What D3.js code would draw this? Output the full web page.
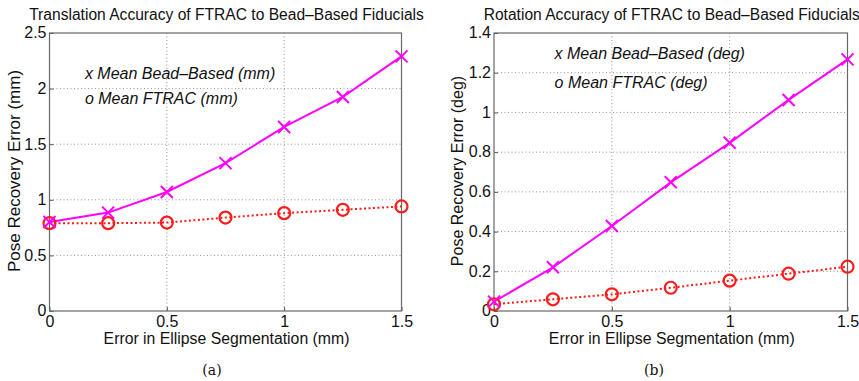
<!DOCTYPE html>
<html>
<head>
<meta charset="utf-8">
<script src="https://cdn.jsdelivr.net/npm/d3@7"></script>
<style>
  body { margin: 0; background: #fff; }
  svg { display: block; font-family: "Liberation Sans", Arial, sans-serif; }
</style>
</head>
<body>
<div id="chart"></div>
<script>
// x positions (error in ellipse segmentation, mm)
const segError = [0, 0.25, 0.5, 0.75, 1.0, 1.25, 1.5];

// (a) translation, mm
const transBead = [0.80, 0.885, 1.07, 1.33, 1.655, 1.925, 2.29];
const transFtrac = [0.79, 0.79, 0.795, 0.84, 0.88, 0.91, 0.94];

// (b) rotation, deg
const rotBead = [0.047, 0.22, 0.428, 0.648, 0.847, 1.063, 1.267];
const rotFtrac = [0.034, 0.059, 0.084, 0.117, 0.153, 0.188, 0.223];

const xTicks = [0, 0.5, 1, 1.5];
const transTicks = [0, 0.5, 1, 1.5, 2, 2.5];
const rotTicks = [0, 0.2, 0.4, 0.6, 0.8, 1, 1.2, 1.4];

const width = 859, height = 381;

const svg = d3.select('#chart')
  .append('svg')
  .attr('width', width)
  .attr('height', height)
  .attr('viewBox', [0, 0, width, height]);

const panels = [
  {
    left: 49.5, right: 401.5, top: 33, bottom: 311,
    yMax: 2.5, yTicks: transTicks,
    bead: transBead, ftrac: transFtrac,
    title: 'Translation Accuracy of FTRAC to Bead\u2013Based Fiducials',
    yLabel: 'Pose Recovery Error (mm)', yLabelSize: 17, yLabelX: 20,
    legend: ['x Mean Bead\u2013Based (mm)', 'o Mean FTRAC (mm)'],
    legendX: 0.151, legendY: [2.086, 1.86],
    caption: '(a)', captionX: 212
  },
  {
    left: 494, right: 847.5, top: 33, bottom: 311,
    yMax: 1.4, yTicks: rotTicks,
    bead: rotBead, ftrac: rotFtrac,
    title: 'Rotation Accuracy of FTRAC to Bead\u2013Based Fiducials',
    yLabel: 'Pose Recovery Error (deg)', yLabelSize: 16, yLabelX: 463,
    legend: ['x Mean Bead\u2013Based (deg)', 'o Mean FTRAC (deg)'],
    legendX: 0.257, legendY: [1.269, 1.121],
    caption: '(b)', captionX: 654
  }
];

panels.forEach(drawPanel);

function drawPanel(p) {
  const x = d3.scaleLinear().domain([0, 1.5]).range([p.left, p.right]);
  const y = d3.scaleLinear().domain([0, p.yMax]).range([p.bottom, p.top]);
  const g = svg.append('g');
  const fmt = d => String(+d.toFixed(2));

  // dotted grid
  g.selectAll('.vgrid')
    .data(xTicks.filter(d => d > 0 && d < 1.5))
    .join('line')
    .attr('x1', d => x(d)).attr('x2', d => x(d))
    .attr('y1', p.top).attr('y2', p.bottom)
    .attr('stroke', '#777').attr('stroke-width', 0.8)
    .attr('stroke-dasharray', '1,2.5');

  g.selectAll('.hgrid')
    .data(p.yTicks.filter(d => d > 0 && d < p.yMax))
    .join('line')
    .attr('x1', p.left).attr('x2', p.right)
    .attr('y1', d => y(d)).attr('y2', d => y(d))
    .attr('stroke', '#777').attr('stroke-width', 0.8)
    .attr('stroke-dasharray', '1,2.5');

  // axes (inward ticks, box)
  const xAxis = g.append('g')
    .attr('transform', `translate(0,${p.bottom})`)
    .call(d3.axisBottom(x).tickValues(xTicks).tickSize(-4).tickPadding(7).tickFormat(fmt));
  const yAxis = g.append('g')
    .attr('transform', `translate(${p.left},0)`)
    .call(d3.axisLeft(y).tickValues(p.yTicks).tickSize(-4).tickPadding(3).tickFormat(fmt));
  [xAxis, yAxis].forEach(a => {
    a.select('.domain').remove();
    a.selectAll('line').attr('stroke', '#555');
    a.selectAll('text')
      .attr('fill', '#111')
      .style('font-family', '"Liberation Sans", Arial, sans-serif')
      .style('font-size', '16px');
  });
  xAxis.selectAll('text').attr('dy', '0.55em');
  yAxis.selectAll('text').attr('dy', '0.3em');

  g.append('rect')
    .attr('x', p.left).attr('y', p.top)
    .attr('width', p.right - p.left).attr('height', p.bottom - p.top)
    .attr('fill', 'none').attr('stroke', '#666').attr('stroke-width', 1.2);

  // series
  const line = d3.line().x((d, i) => x(segError[i])).y(d => y(d));

  g.append('path')
    .datum(p.ftrac)
    .attr('d', line)
    .attr('fill', 'none')
    .attr('stroke', '#ff1a1a')
    .attr('stroke-width', 2)
    .attr('stroke-dasharray', '2,2.5');

  g.append('path')
    .datum(p.bead)
    .attr('d', line)
    .attr('fill', 'none')
    .attr('stroke', '#ff00ff')
    .attr('stroke-width', 2);

  g.selectAll('.ring')
    .data(p.ftrac)
    .join('circle')
    .attr('cx', (d, i) => x(segError[i]))
    .attr('cy', d => y(d))
    .attr('r', 6)
    .attr('fill', 'none')
    .attr('stroke', '#ff1a1a')
    .attr('stroke-width', 2.2);

  g.selectAll('.cross')
    .data(p.bead)
    .join('path')
    .attr('d', (d, i) => {
      const cx = x(segError[i]), cy = y(d), s = 6;
      return `M${cx - s},${cy - s}L${cx + s},${cy + s}M${cx - s},${cy + s}L${cx + s},${cy - s}`;
    })
    .attr('stroke', '#ff00ff')
    .attr('stroke-width', 2);

  // in-plot legend text
  g.selectAll('.legend')
    .data(p.legend)
    .join('text')
    .attr('x', x(p.legendX))
    .attr('y', (d, i) => y(p.legendY[i]))
    .attr('font-style', 'italic')
    .attr('font-size', 16)
    .attr('fill', '#111')
    .text(d => d);

  // title and labels
  g.append('text')
    .attr('x', (p.left + p.right) / 2 + 1)
    .attr('y', 20)
    .attr('text-anchor', 'middle')
    .attr('font-size', 15.6)
    .attr('fill', '#111')
    .text(p.title);

  g.append('text')
    .attr('x', (p.left + p.right) / 2 + 1)
    .attr('y', 344)
    .attr('text-anchor', 'middle')
    .attr('font-size', 15.8)
    .attr('fill', '#111')
    .text('Error in Ellipse Segmentation (mm)');

  g.append('text')
    .attr('transform', `translate(${p.yLabelX},${(p.top + p.bottom) / 2 - 1}) rotate(-90)`)
    .attr('text-anchor', 'middle')
    .attr('font-size', p.yLabelSize)
    .attr('fill', '#111')
    .text(p.yLabel);

  g.append('text')
    .attr('x', p.captionX)
    .attr('y', 375)
    .attr('text-anchor', 'middle')
    .attr('font-family', '"DejaVu Serif", "Liberation Serif", serif')
    .attr('font-size', 14)
    .attr('fill', '#111')
    .text(p.caption);
}
</script>
</body>
</html>
